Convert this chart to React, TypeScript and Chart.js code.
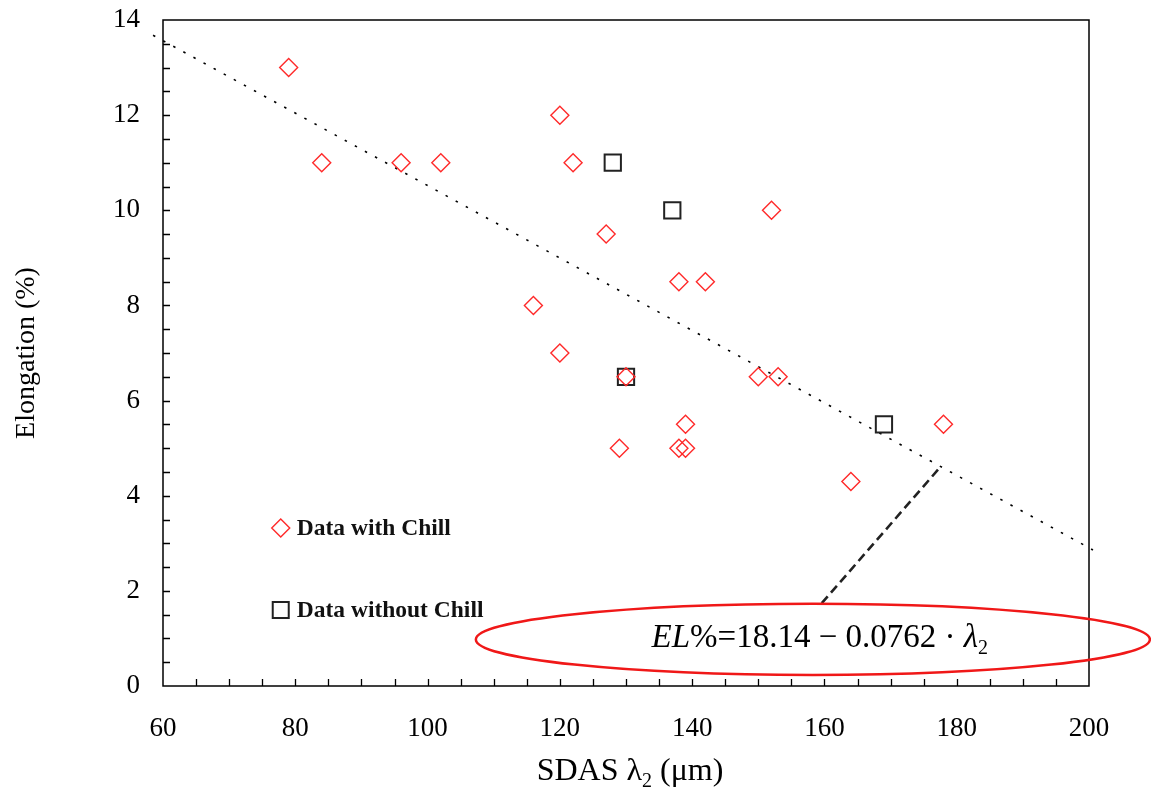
import React, { useEffect, useRef } from "react";
import { Chart, registerables } from "chart.js";

Chart.register(...registerables);

// ---- data ----
const withChillX = [79, 84, 96, 102, 120, 122, 127, 116, 138, 142, 152, 120, 130, 150, 153, 129, 139, 138, 139, 164, 178];
const withChillY = [13, 11, 11, 11, 12, 11, 9.5, 8, 8.5, 8.5, 10, 7, 6.5, 6.5, 6.5, 5, 5.5, 5, 5, 4.3, 5.5];
const withoutChillX = [128, 137, 130, 169];
const withoutChillY = [11, 10, 6.5, 5.5];
const trendX = [58.5, 200.6];
const trendY = [13.68, 2.86];
const leaderX = [159.6, 177.5];
const leaderY = [1.74, 4.6];
const xTickLabels = [60, 80, 100, 120, 140, 160, 180, 200];
const yTickLabels = [0, 2, 4, 6, 8, 10, 12, 14];
const xMinorStep = 5;
const yMinorStep = 0.5;
const legendLabels = ["Data with Chill", "Data without Chill"];
const legendAnchorX = 77.8;
const legendAnchorY = [3.32, 1.6];
const ellipseCenter = { x: 158.25, y: 0.98 };
const ellipseHalf = { x: 50.95, y: 0.75 };

const SERIF = '"Liberation Serif", "Times New Roman", serif';
const RED = "#ff2a2a";

const toPts = (xs: number[], ys: number[]) => xs.map((x, i) => ({ x, y: ys[i] }));

const decorPlugin = {
  id: "decor",
  beforeDatasetsDraw(chart: any) {
    const { ctx, chartArea: a, scales } = chart;
    const x = scales.x;
    const y = scales.y;
    ctx.save();
    ctx.strokeStyle = "#000";
    ctx.lineWidth = 1.5;
    ctx.strokeRect(a.left, a.top, a.right - a.left, a.bottom - a.top);
    ctx.beginPath();
    for (let v = x.min + xMinorStep; v < x.max; v += xMinorStep) {
      const px = Math.round(x.getPixelForValue(v)) + 0.5;
      ctx.moveTo(px, a.bottom);
      ctx.lineTo(px, a.bottom - 7);
    }
    for (let v = y.min + yMinorStep; v < y.max; v += yMinorStep) {
      const py = Math.round(y.getPixelForValue(v)) + 0.5;
      ctx.moveTo(a.left, py);
      ctx.lineTo(a.left + 7, py);
    }
    ctx.lineWidth = 1.3;
    ctx.stroke();
    ctx.restore();
  },
  afterDatasetsDraw(chart: any) {
    const { ctx, chartArea: a, scales } = chart;
    const x = scales.x;
    const y = scales.y;
    ctx.save();
    // ellipse
    const cx = x.getPixelForValue(ellipseCenter.x);
    const cy = y.getPixelForValue(ellipseCenter.y);
    const rx = x.getPixelForValue(ellipseCenter.x + ellipseHalf.x) - cx;
    const ry = cy - y.getPixelForValue(ellipseCenter.y + ellipseHalf.y);
    ctx.beginPath();
    ctx.ellipse(cx, cy, rx, ry, 0, 0, Math.PI * 2);
    ctx.strokeStyle = "#f01818";
    ctx.lineWidth = 2.5;
    ctx.stroke();

    // equation
    const fs = 33;
    const segs = [
      { t: "EL", f: `italic ${fs}px ${SERIF}`, dy: 0 },
      { t: "%=18.14 \u2212 0.0762 \u00b7 ", f: `${fs}px ${SERIF}`, dy: 0 },
      { t: "\u03bb", f: `italic ${fs}px ${SERIF}`, dy: 0 },
      { t: "2", f: `${Math.round(fs * 0.62)}px ${SERIF}`, dy: 7 },
    ];
    let total = 0;
    const widths = segs.map((s) => {
      ctx.font = s.f;
      const w = ctx.measureText(s.t).width;
      total += w;
      return w;
    });
    let sx = cx + 7 - total / 2;
    const base = cy + 8;
    ctx.fillStyle = "#000";
    ctx.textBaseline = "alphabetic";
    ctx.textAlign = "left";
    segs.forEach((s, i) => {
      ctx.font = s.f;
      ctx.fillText(s.t, sx, base + s.dy);
      sx += widths[i];
    });

    // legend
    legendLabels.forEach((label, i) => {
      const mx = x.getPixelForValue(legendAnchorX);
      const my = y.getPixelForValue(legendAnchorY[i]);
      ctx.beginPath();
      if (i === 0) {
        ctx.moveTo(mx - 9, my);
        ctx.lineTo(mx, my - 9);
        ctx.lineTo(mx + 9, my);
        ctx.lineTo(mx, my + 9);
        ctx.closePath();
        ctx.strokeStyle = RED;
        ctx.lineWidth = 1.4;
      } else {
        ctx.rect(mx - 8, my - 8, 16, 16);
        ctx.strokeStyle = "#222";
        ctx.lineWidth = 2;
      }
      ctx.stroke();
      ctx.font = `bold 23.5px ${SERIF}`;
      ctx.fillStyle = "#111";
      ctx.textBaseline = "middle";
      ctx.fillText(label, mx + 16, my + 1);
    });

    // x axis title with subscript
    const tfs = 32;
    const tsegs = [
      { t: "SDAS \u03bb", f: `${tfs}px ${SERIF}`, dy: 0 },
      { t: "2", f: `${Math.round(tfs * 0.62)}px ${SERIF}`, dy: 7 },
      { t: " (\u03bcm)", f: `${tfs}px ${SERIF}`, dy: 0 },
    ];
    let tt = 0;
    const tw = tsegs.map((s) => {
      ctx.font = s.f;
      const w = ctx.measureText(s.t).width;
      tt += w;
      return w;
    });
    let tx = (a.left + a.right) / 2 + 4 - tt / 2;
    const tb = a.bottom + 94;
    ctx.textBaseline = "alphabetic";
    ctx.fillStyle = "#000";
    tsegs.forEach((s, i) => {
      ctx.font = s.f;
      ctx.fillText(s.t, tx, tb + s.dy);
      tx += tw[i];
    });
    ctx.restore();
  },
};

export default function App() {
  const ref = useRef<HTMLCanvasElement | null>(null);
  useEffect(() => {
    document.body.style.margin = "0";
    const canvas = ref.current;
    if (!canvas) return;
    const chart = new Chart(canvas, {
      type: "scatter",
      data: {
        datasets: [
          {
            label: legendLabels[0],
            data: toPts(withChillX, withChillY),
            pointStyle: "rectRot",
            pointRadius: 9,
            pointBorderColor: RED,
            pointBackgroundColor: "rgba(0,0,0,0)",
            pointBorderWidth: 1.4,
            showLine: false,
          },
          {
            label: legendLabels[1],
            data: toPts(withoutChillX, withoutChillY),
            pointStyle: "rect",
            pointRadius: 11.5,
            pointBorderColor: "#222",
            pointBackgroundColor: "rgba(0,0,0,0)",
            pointBorderWidth: 2,
            showLine: false,
          },
          {
            label: "leader",
            data: toPts(leaderX, leaderY),
            showLine: true,
            pointRadius: 0,
            borderColor: "#222",
            borderWidth: 2.6,
            borderDash: [9, 5],
            clip: false as any,
          },
          {
            label: "trend",
            data: toPts(trendX, trendY),
            showLine: true,
            pointRadius: 0,
            borderColor: "#000",
            borderWidth: 1.6,
            borderDash: [2.5, 9],
            clip: false as any,
          },
        ],
      },
      options: {
        animation: false,
        responsive: false,
        devicePixelRatio: 1,
        layout: { padding: { top: 20, right: 62, left: 0, bottom: 0 } },
        plugins: { legend: { display: false }, tooltip: { enabled: false } },
        scales: {
          x: {
            type: "linear",
            min: 60,
            max: 200,
            afterFit: (s: any) => {
              s.height = 107;
              s.paddingLeft = 0;
              s.paddingRight = 0;
            },
            afterBuildTicks: (s: any) => {
              s.ticks = xTickLabels.map((v) => ({ value: v }));
            },
            grid: { display: false, drawTicks: false },
            border: { display: false },
            ticks: {
              color: "#000",
              font: { family: SERIF, size: 27 },
              padding: 27,
              maxRotation: 0,
            },
          },
          y: {
            type: "linear",
            min: 0,
            max: 14,
            afterFit: (s: any) => {
              s.width = 163;
              s.paddingTop = 0;
              s.paddingBottom = 0;
            },
            afterBuildTicks: (s: any) => {
              s.ticks = yTickLabels.map((v) => ({ value: v }));
            },
            grid: { display: false, drawTicks: false },
            border: { display: false },
            ticks: {
              color: "#000",
              font: { family: SERIF, size: 27 },
              padding: 23,
            },
            title: {
              display: true,
              text: "Elongation (%)",
              color: "#000",
              font: { family: SERIF, size: 28 },
              padding: { top: 10, bottom: 0 },
            },
          },
        },
      },
      plugins: [decorPlugin],
    } as any);
    return () => chart.destroy();
  }, []);
  return (
    <div style={{ width: 1151, height: 793, background: "#fff" }}>
      <canvas ref={ref} width={1151} height={793} style={{ display: "block" }} />
    </div>
  );
}
